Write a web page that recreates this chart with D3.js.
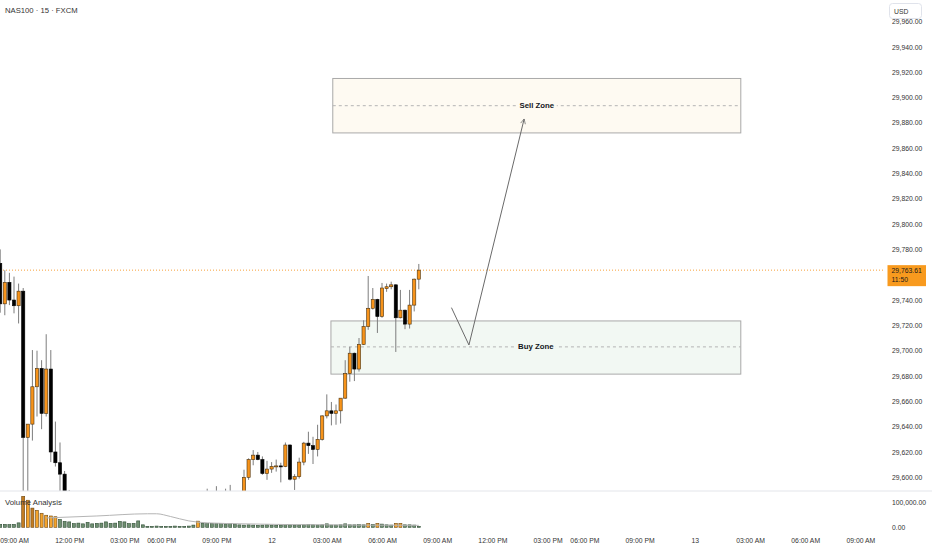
<!DOCTYPE html>
<html>
<head>
<meta charset="utf-8">
<style>
body { margin:0; padding:0; background:#fff; }
svg { display:block; font-family:"Liberation Sans", Arial, sans-serif; }
.axis text { fill:#333; font-size:6.8px; }
.axis path, .axis line { display:none; }
</style>
<script src="https://cdn.jsdelivr.net/npm/d3@7"></script>
</head>
<body>
<div id="chart"></div>
<script>
// NAS100 15m, bars start at index -3 (08:15 AM day 11); index 0 = 09:00 AM
var firstBar = -3;

var opens = [
  29769, 29737, 29754, 29740, 29735.5, 29747, 29631.5, 29642, 29671.5, 29686,
  29650.5, 29685.5, 29620, 29611.5, 29602.5, 29578, 29570, 29552, 29558, 29562,
  29548, 29550, 29556, 29560, 29566, 29562, 29568, 29574, 29568, 29571,
  29575, 29566, 29569, 29570, 29571, 29572, 29574, 29573, 29575, 29578,
  29576, 29579, 29580, 29577, 29584, 29580, 29586, 29582, 29588, 29583,
  29587, 29585, 29583, 29586, 29600, 29614, 29617.5, 29614, 29603, 29606.5,
  29608.5, 29609, 29608.5, 29625.5, 29598.5, 29600.5, 29612, 29627, 29625, 29622,
  29630, 29648.5, 29652.5, 29650.5, 29652.5, 29662.5, 29682, 29698, 29685.5, 29705,
  29719, 29733.5, 29740.5, 29727, 29749, 29750.5, 29752, 29726, 29732, 29721,
  29736, 29756.5
];
var highs = [
  29780, 29763.5, 29761.5, 29758.5, 29753, 29749.5, 29642, 29700.5, 29700, 29692.5,
  29713, 29700.5, 29644, 29627.5, 29605, 29590, 29578, 29562, 29568, 29570,
  29556, 29560, 29566, 29572, 29575, 29570, 29580, 29582, 29576, 29578,
  29584, 29572, 29573, 29574, 29575, 29578, 29577, 29576, 29580, 29582,
  29581, 29584, 29586, 29588, 29588, 29591, 29589, 29593, 29589, 29591,
  29594, 29588, 29588, 29606, 29615, 29621.5, 29620, 29616.5, 29613, 29612,
  29614, 29611.5, 29627.5, 29626, 29602.5, 29615.5, 29628, 29636, 29632, 29641.5,
  29649, 29665.5, 29659.5, 29657.5, 29662.5, 29692.5, 29703, 29698.5, 29710, 29724,
  29759, 29749.5, 29741, 29753.5, 29753, 29754.5, 29752.5, 29748, 29732.5, 29748,
  29757, 29768.5
];
var lows = [
  29730, 29728, 29736, 29729.5, 29721.5, 29585, 29586, 29629, 29648, 29638,
  29648, 29612, 29608.5, 29588, 29570, 29558, 29548, 29540, 29550, 29545,
  29538, 29544, 29550, 29552, 29558, 29554, 29560, 29564, 29560, 29565,
  29562, 29560, 29565, 29567, 29568, 29566, 29570, 29569, 29571, 29574,
  29572, 29575, 29574, 29566, 29576, 29575, 29578, 29578, 29580, 29579,
  29582, 29579, 29578, 29584, 29598, 29609.5, 29613.5, 29602, 29598, 29603.5,
  29604.5, 29596, 29608, 29597.5, 29590, 29599, 29609.5, 29618.5, 29610.5, 29616.5,
  29629, 29646.5, 29641, 29641.5, 29642.5, 29662, 29675.5, 29676, 29683.5, 29704.5,
  29716.5, 29732.5, 29714, 29726, 29746.5, 29748.5, 29699, 29725.5, 29717, 29717.5,
  29731, 29748.5
];
var closes = [
  29737, 29754, 29740, 29735.5, 29747, 29631.5, 29642, 29671.5, 29686, 29650.5,
  29685.5, 29620, 29611.5, 29602.5, 29578, 29570, 29552, 29558, 29562, 29548,
  29550, 29556, 29560, 29566, 29562, 29568, 29574, 29568, 29571, 29575,
  29566, 29569, 29570, 29571, 29572, 29574, 29573, 29575, 29578, 29576,
  29579, 29580, 29577, 29584, 29580, 29586, 29582, 29588, 29583, 29587,
  29585, 29583, 29586, 29600, 29614, 29617.5, 29614, 29603, 29606.5, 29608.5,
  29609, 29608.5, 29625.5, 29598.5, 29600.5, 29612, 29627, 29625, 29622, 29630,
  29648.5, 29652.5, 29650.5, 29652.5, 29662.5, 29682, 29698, 29685.5, 29705, 29719,
  29733.5, 29740.5, 29727, 29749.5, 29750.5, 29752, 29726, 29732, 29721, 29736,
  29756.5, 29763.61
];

// volume in thousands, same bar order
var volumes = [
  12, 12, 11, 12, 18, 126, 110, 78, 69, 57,
  49, 46, 43, 32, 24, 22, 15, 17, 14, 20,
  14, 16, 17, 22, 16, 17, 24, 22, 15, 16,
  26, 10, 4, 4, 5, 4, 4, 4, 5, 4,
  4, 5, 9, 25, 16, 15, 16, 15, 15, 14,
  15, 13, 10, 9, 10, 9, 8, 9, 10, 9,
  8, 9, 11, 10, 9, 9, 10, 11, 10, 9,
  10, 14, 9, 9, 10, 14, 10, 10, 11, 10,
  16, 12, 16, 13, 10, 9, 16, 16, 10, 10,
  9, 4
];
// bar indices whose volume column is orange / brown
var volOrange = [3, 5, 6, 7, 8, 9, 40, 77, 79, 83, 84];
var volBrown = [2, 4];

// grey average line of the volume pane (bar index, thousands)
var volAvgBar = [7, 18, 29, 31, 34, 38, 42, 50, 60, 75, 88];
var volAvgVal = [38, 46, 55, 55, 44, 26, 18, 14, 11, 9, 8];

var lastPrice = 29763.61;
var countdown = "11:50";

var priceTicks = d3.range(29600, 29961, 20);
var volTicks = [0, 100000];
var timeTickBars = [0, 12, 24, 32, 44, 56, 68, 80, 92, 104, 116, 124, 136, 148, 160, 172, 184];
var timeTickLabels = ["09:00 AM", "12:00 PM", "03:00 PM", "06:00 PM", "09:00 PM", "12",
  "03:00 AM", "06:00 AM", "09:00 AM", "12:00 PM", "03:00 PM", "06:00 PM", "09:00 PM", "13",
  "03:00 AM", "06:00 AM", "09:00 AM"];

var zoneNames = ["Sell Zone", "Buy Zone"];
var zoneTop = [29915, 29723.5];
var zoneBottom = [29872, 29681.5];
var zoneMid = [29893.5, 29703];
var zoneStart = [69.3, 68.9];
var zoneEnd = [158, 158];
var zoneFill = ["#fefaf2", "#f2f8f3"];

var pathBars = [95.1, 98.9, 110.9];
var pathPrices = [29734, 29704.5, 29883];

var W = 932, H = 550;
var axisX = 885, mainBottom = 491;

var svg = d3.select("#chart").append("svg").attr("width", W).attr("height", H);

var x = d3.scaleLinear().domain([0, 184]).range([14, 860.4]);
var y = d3.scaleLinear().domain([29600, 29960]).range([477.3, 21.5]);
var yv = d3.scaleLinear().domain([0, 100000]).range([527.3, 502.7]);

var defs = svg.append("defs");
defs.append("clipPath").attr("id", "mainClip")
  .append("rect").attr("x", 0).attr("y", 0).attr("width", axisX).attr("height", mainBottom);
defs.append("clipPath").attr("id", "volClip")
  .append("rect").attr("x", 0).attr("y", mainBottom + 1).attr("width", axisX).attr("height", 44);
defs.append("marker").attr("id", "head")
  .attr("viewBox", "0 0 10 10").attr("refX", 9).attr("refY", 5)
  .attr("markerWidth", 6).attr("markerHeight", 6).attr("orient", "auto")
  .append("path").attr("d", "M1,1 L9,5 L1,9").attr("fill", "none")
  .attr("stroke", "#6a6a6a").attr("stroke-width", 1.2);

var bars = opens.map(function(o, i) {
  return { i: i + firstBar, o: o, h: highs[i], l: lows[i], c: closes[i], v: volumes[i] * 1000 };
});

// ---- zones
var main = svg.append("g").attr("clip-path", "url(#mainClip)");
zoneNames.forEach(function(name, k) {
  var x0 = x(zoneStart[k]), x1 = x(zoneEnd[k]);
  main.append("rect")
    .attr("x", x0).attr("y", y(zoneTop[k]))
    .attr("width", x1 - x0).attr("height", y(zoneBottom[k]) - y(zoneTop[k]))
    .attr("fill", zoneFill[k]).attr("stroke", "#a9a9a9").attr("stroke-width", 1);
  main.append("line")
    .attr("x1", x0).attr("x2", x1).attr("y1", y(zoneMid[k])).attr("y2", y(zoneMid[k]))
    .attr("stroke", "#b4b4b4").attr("stroke-dasharray", "3,3");
  var cx = x((zoneStart[k] + zoneEnd[k]) / 2);
  main.append("rect").attr("x", cx - 20).attr("y", y(zoneMid[k]) - 5)
    .attr("width", 40).attr("height", 10).attr("fill", zoneFill[k]);
  main.append("text").attr("x", cx).attr("y", y(zoneMid[k]) + 2.6)
    .attr("text-anchor", "middle").attr("font-size", 7.8).attr("font-weight", "bold")
    .attr("fill", "#131722").text(name);
});

// ---- current price line
main.append("line")
  .attr("x1", 0).attr("x2", axisX).attr("y1", y(lastPrice)).attr("y2", y(lastPrice))
  .attr("stroke", "#f7a13a").attr("stroke-dasharray", "1,2").attr("stroke-width", 1);

// ---- candles
var bw = 3.2;
var cg = main.append("g");
cg.selectAll("line.wick").data(bars).enter().append("line")
  .attr("class", "wick")
  .attr("x1", function(d) { return x(d.i); }).attr("x2", function(d) { return x(d.i); })
  .attr("y1", function(d) { return y(d.h); }).attr("y2", function(d) { return y(d.l); })
  .attr("stroke", "#7d7d7d").attr("stroke-width", 1);
cg.selectAll("rect.body").data(bars).enter().append("rect")
  .attr("class", "body")
  .attr("x", function(d) { return x(d.i) - bw / 2; })
  .attr("y", function(d) { return y(Math.max(d.o, d.c)); })
  .attr("width", bw)
  .attr("height", function(d) { return Math.max(1, Math.abs(y(d.o) - y(d.c))); })
  .attr("fill", function(d) { return d.c >= d.o ? "#f7931a" : "#000"; })
  .attr("stroke", function(d) { return d.c >= d.o ? "#4a3210" : "#000"; })
  .attr("stroke-width", 0.6);

// ---- arrow
var arrowLine = d3.line()
  .x(function(d) { return x(d[0]); })
  .y(function(d) { return y(d[1]); });
main.append("path")
  .attr("d", arrowLine(d3.zip(pathBars, pathPrices)))
  .attr("fill", "none").attr("stroke", "#6a6a6a").attr("stroke-width", 1)
  .attr("marker-end", "url(#head)");

// ---- pane separator
svg.append("line").attr("x1", 0).attr("x2", W).attr("y1", mainBottom).attr("y2", mainBottom)
  .attr("stroke", "#e3e5ea").attr("stroke-width", 1);

// ---- volume pane
var vol = svg.append("g").attr("clip-path", "url(#volClip)");
vol.selectAll("rect").data(bars).enter().append("rect")
  .attr("x", function(d) { return x(d.i) - 1.5; })
  .attr("y", function(d) { return yv(d.v); })
  .attr("width", 3)
  .attr("height", function(d) { return yv(0) - yv(d.v); })
  .attr("fill", function(d) {
    if (volBrown.indexOf(d.i) >= 0) return "#c27c22";
    if (volOrange.indexOf(d.i) >= 0) return "#f5a42c";
    return "#6f8f71";
  })
  .attr("stroke", function(d) {
    if (volBrown.indexOf(d.i) >= 0 || volOrange.indexOf(d.i) >= 0) return "#6e4812";
    return "#2f4d35";
  })
  .attr("stroke-width", 0.6);
vol.append("path")
  .attr("d", d3.line().curve(d3.curveMonotoneX)
    .x(function(d) { return x(d[0]); })
    .y(function(d) { return yv(d[1] * 1000); })(d3.zip(volAvgBar, volAvgVal)))
  .attr("fill", "none").attr("stroke", "#b5b5b5").attr("stroke-width", 1);

svg.append("text").attr("x", 5).attr("y", 505).attr("font-size", 7.8)
  .attr("fill", "#333").text("Volume Analysis");

// ---- axes (price labels hidden behind the last-price badge are skipped, as on the chart)
var ly = y(lastPrice);
var shownTicks = priceTicks.filter(function(p) { return Math.abs(y(p) - ly - 5.5) > 12; });
svg.append("g").attr("class", "axis").attr("transform", "translate(" + (axisX + 4) + ",0)")
  .call(d3.axisRight(y).tickValues(shownTicks).tickSize(0).tickPadding(3)
    .tickFormat(d3.format(",.2f")));
svg.append("g").attr("class", "axis").attr("transform", "translate(" + (axisX + 4) + ",0)")
  .call(d3.axisRight(yv).tickValues(volTicks).tickSize(0).tickPadding(3)
    .tickFormat(d3.format(",.2f")));
svg.append("g").attr("class", "axis").attr("transform", "translate(0,536)")
  .call(d3.axisBottom(x).tickValues(timeTickBars).tickSize(0).tickPadding(2)
    .tickFormat(function(d, k) { return timeTickLabels[k]; }));

// USD badge
svg.append("rect").attr("x", 889.5).attr("y", 3.5).attr("width", 32).attr("height", 15)
  .attr("rx", 3).attr("fill", "#fff").attr("stroke", "#e0e3eb");
svg.append("text").attr("x", 894).attr("y", 13.5).attr("font-size", 6.8)
  .attr("fill", "#333").text("USD");

// last price badge
svg.append("rect").attr("x", 887.5).attr("y", ly - 5).attr("width", 38.5).attr("height", 21)
  .attr("fill", "#f89a1e");
svg.append("text").attr("x", 891.5).attr("y", ly + 2.4).attr("font-size", 6.8)
  .attr("fill", "#1a1a1a").text(d3.format(",.2f")(lastPrice));
svg.append("text").attr("x", 891.5).attr("y", ly + 11.6).attr("font-size", 6.8)
  .attr("fill", "#1a1a1a").text(countdown);

// title
svg.append("text").attr("x", 5).attr("y", 13).attr("font-size", 7.7)
  .attr("fill", "#333").text("NAS100 · 15 · FXCM");
</script>
</body>
</html>
